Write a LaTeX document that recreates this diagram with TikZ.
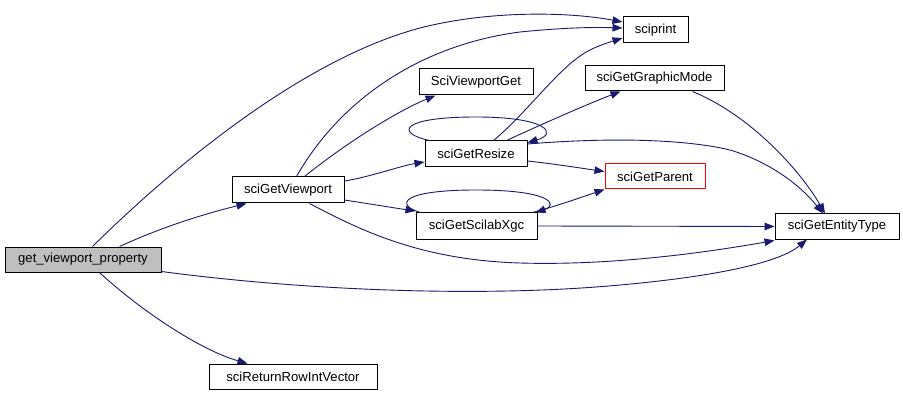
\documentclass[tikz,border=0pt]{standalone}
\usepackage{fontspec}
\setmainfont{Liberation Sans}
\usetikzlibrary{arrows.meta}
\definecolor{edgeblue}{HTML}{191970}
\definecolor{boxgray}{HTML}{BFBFBF}
\begin{document}
\begin{tikzpicture}[x=1pt,y=-1pt,
  fn/.style={draw=black,fill=white,line width=1pt,rectangle,inner sep=0pt,minimum height=25pt,
    font=\fontsize{13.1}{15}\selectfont},
  call/.style={draw=edgeblue,line width=0.9pt,-{Triangle[length=10pt,width=7.5pt]}},
  loopcall/.style={call}]
\useasboundingbox (0,0) rectangle (903,393);
\fill[white] (0,0) rectangle (903,393);

\node[fn,fill=boxgray,minimum width=156pt] (gvp) at (83,259.5) {get\_viewport\_property};
\node[fn,minimum width=112pt,minimum height=26pt] (view) at (288,190) {sciGetViewport};
\node[fn,minimum width=114pt,minimum height=26pt] (vpget) at (476,82) {SciViewportGet};
\node[fn,minimum width=65pt,minimum height=26pt] (print) at (655.5,30) {sciprint};
\node[fn,minimum width=139pt] (gmode) at (654.5,78.5) {sciGetGraphicMode};
\node[fn,minimum width=102pt,minimum height=26pt] (resize) at (476,154) {sciGetResize};
\node[fn,draw=red,minimum width=100pt] (parent) at (655,176.5) {sciGetParent};
\node[fn,minimum width=121pt,minimum height=26pt] (xgc) at (476.5,226) {sciGetScilabXgc};
\node[fn,minimum width=124pt] (etype) at (837,226.5) {sciGetEntityType};
\node[fn,minimum width=168pt] (rrow) at (293,376.5) {sciReturnRowIntVector};

% get_viewport_property
\draw[call] ([xshift=88pt]gvp.north west) .. controls (170,170) and (300,60) .. (420,28)
  .. controls (490,10) and (570,12) .. ([yshift=8pt]print.west);
\draw[call] ([xshift=115pt]gvp.north west) .. controls (160,228) and (200,215) .. ([xshift=15pt]view.south west);
\draw[call] ([yshift=1pt]gvp.south east) .. controls (300,290) and (480,298) .. (620,285)
  .. controls (720,276) and (780,262) .. ([xshift=-30pt]etype.south);
\draw[call] ([xshift=95pt]gvp.south west) .. controls (140,310) and (200,350) .. ([xshift=39pt]rrow.north west);

% sciGetViewport
\draw[call] ([xshift=65pt]view.north west) .. controls (340,100) and (420,45) .. (520,32)
  .. controls (560,28) and (590,27) .. ([yshift=2pt]print.west);
\draw[call] ([xshift=73pt]view.north west) .. controls (350,140) and (400,110) .. ([xshift=17pt]vpget.south west);
\draw[call] ([yshift=9pt]view.east) .. controls (370,177) and (400,166) .. ([yshift=-8pt]resize.west);
\draw[call] ([yshift=-10pt]view.east) .. controls (370,204) and (395,208) .. ([yshift=15pt]xgc.west);
\draw[call] ([xshift=78pt]view.south west) .. controls (360,230) and (420,260) .. (520,263)
  .. controls (620,266) and (720,250) .. ([yshift=-14pt]etype.west);

% sciGetResize
\draw[loopcall] ([xshift=5pt]resize.north west) .. controls (395,133) and (400,117) .. (476,117)
  .. controls (548,117) and (558,134) .. ([yshift=-2pt]resize.north east);
\draw[call] ([xshift=69pt]resize.north west) .. controls (530,110) and (560,65) .. (590,50)
  .. controls (600,45) and (610,42) .. ([yshift=-8pt]print.west);
\draw[call] ([xshift=82pt]resize.north west) .. controls (540,125) and (590,103) .. ([xshift=36pt]gmode.south west);
\draw[call] ([yshift=-7pt]resize.east) .. controls (555,164) and (580,168) .. ([yshift=5pt]parent.west);
\draw[call] ([yshift=10pt]resize.east) .. controls (600,138) and (680,138) .. (730,150)
  .. controls (770,162) and (800,185) .. ([xshift=-14pt]etype.north);

% sciGetGraphicMode
\draw[call] ([xshift=108pt]gmode.south west) .. controls (750,115) and (800,170) .. ([xshift=-12pt]etype.north);

% sciGetScilabXgc
\draw[loopcall] ([xshift=5pt]xgc.north west) .. controls (395,205) and (400,190) .. (476,190)
  .. controls (552,190) and (558,205) .. ([xshift=-2pt]xgc.north east);
\draw[call] ([xshift=-5pt]xgc.north east) .. controls (560,205) and (585,196) .. (parent.south west);
\draw[call] (xgc.east) -- (etype.west);
\end{tikzpicture}
\end{document}
